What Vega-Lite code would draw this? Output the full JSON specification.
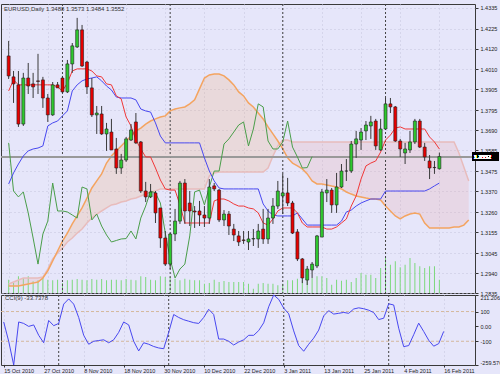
{
"$schema": "https://vega.github.io/schema/vega-lite/v6.json",
"background": "#E6E6FA",
"padding": {"left": 0, "top": 3, "right": 0, "bottom": 0},
"autosize": {"type": "pad"},
"bounds": "flush",
"config": {
  "view": {"fill": "#E6E6FA", "stroke": "#3a3a3a", "strokeWidth": 1},
  "axis": {"labelFont": "Liberation Sans", "labelFontSize": 5.5, "labelColor": "#222222", "tickColor": "#333333", "domain": false, "gridColor": "#C4C4DC", "gridDash": [1, 3], "gridWidth": 1, "labelOverlap": false, "title": null}
},
"datasets": {
"seps": [{"i": 11}, {"i": 33}, {"i": 56}, {"i": 77}],
"bars": [
{"i":0,"open":1.4081,"high":1.4160,"low":1.3960,"close":1.3976,"volume":13300,"tenkan":1.3897,"kijun":1.3408,"chikou":1.3624,"spanA":1.2872,"spanB":1.2882,"cci":30},
{"i":1,"open":1.3971,"high":1.4002,"low":1.3834,"close":1.3934,"volume":10000,"tenkan":1.3955,"kijun":1.3466,"chikou":1.3371,"spanA":1.2872,"spanB":1.2893,"cci":-100},
{"i":2,"open":1.3929,"high":1.4002,"low":1.3708,"close":1.3723,"volume":16700,"tenkan":1.3929,"kijun":1.3513,"chikou":1.3340,"spanA":1.2872,"spanB":1.2903,"cci":-259.576},
{"i":3,"open":1.3723,"high":1.3992,"low":1.3713,"close":1.3965,"volume":15000,"tenkan":1.3929,"kijun":1.3555,"chikou":1.3366,"spanA":1.2877,"spanB":1.2914,"cci":30},
{"i":4,"open":1.3965,"high":1.4044,"low":1.3881,"close":1.3923,"volume":16700,"tenkan":1.3929,"kijun":1.3582,"chikou":1.3256,"spanA":1.2882,"spanB":1.2914,"cci":20},
{"i":5,"open":1.3934,"high":1.3992,"low":1.3860,"close":1.3918,"volume":11700,"tenkan":1.3929,"kijun":1.3592,"chikou":1.3124,"spanA":1.2887,"spanB":1.2914,"cci":0},
{"i":6,"open":1.3950,"high":1.4092,"low":1.3881,"close":1.3947,"volume":12700,"tenkan":1.3929,"kijun":1.3597,"chikou":1.2987,"spanA":1.2893,"spanB":1.2914,"cci":10},
{"i":7,"open":1.3955,"high":1.3971,"low":1.3808,"close":1.3860,"volume":15000,"tenkan":1.3929,"kijun":1.3608,"chikou":1.3145,"spanA":1.2914,"spanB":1.2919,"cci":-60},
{"i":8,"open":1.3860,"high":1.3881,"low":1.3734,"close":1.3771,"volume":13300,"tenkan":1.3929,"kijun":1.3713,"chikou":1.3213,"spanA":1.2951,"spanB":1.2961,"cci":-110},
{"i":9,"open":1.3771,"high":1.3944,"low":1.3766,"close":1.3929,"volume":12700,"tenkan":1.3929,"kijun":1.3729,"chikou":1.3413,"spanA":1.3003,"spanB":1.3014,"cci":40},
{"i":10,"open":1.3929,"high":1.3944,"low":1.3913,"close":1.3913,"volume":13300,"tenkan":1.3918,"kijun":1.3739,"chikou":1.3266,"spanA":1.3056,"spanB":1.3045,"cci":5},
{"i":11,"open":1.3965,"high":1.3976,"low":1.3886,"close":1.3892,"volume":10000,"tenkan":1.3897,"kijun":1.3766,"chikou":1.3266,"spanA":1.3108,"spanB":1.3071,"cci":20},
{"i":12,"open":1.3892,"high":1.4060,"low":1.3886,"close":1.4039,"volume":12700,"tenkan":1.3939,"kijun":1.3792,"chikou":1.3261,"spanA":1.3150,"spanB":1.3103,"cci":150},
{"i":13,"open":1.4039,"high":1.4149,"low":1.3992,"close":1.4134,"volume":13300,"tenkan":1.4002,"kijun":1.3897,"chikou":1.3245,"spanA":1.3198,"spanB":1.3124,"cci":185},
{"i":14,"open":1.4128,"high":1.4281,"low":1.4123,"close":1.4218,"volume":14000,"tenkan":1.4013,"kijun":1.3929,"chikou":1.3229,"spanA":1.3240,"spanB":1.3150,"cci":150},
{"i":15,"open":1.4218,"high":1.4244,"low":1.4023,"close":1.4028,"volume":13300,"tenkan":1.4013,"kijun":1.3950,"chikou":1.3392,"spanA":1.3282,"spanB":1.3171,"cci":60},
{"i":16,"open":1.4049,"high":1.4055,"low":1.3881,"close":1.3918,"volume":12700,"tenkan":1.4013,"kijun":1.3960,"chikou":1.3382,"spanA":1.3334,"spanB":1.3203,"cci":-60},
{"i":17,"open":1.3913,"high":1.3965,"low":1.3760,"close":1.3771,"volume":14000,"tenkan":1.4002,"kijun":1.3965,"chikou":1.3219,"spanA":1.3387,"spanB":1.3229,"cci":-120},
{"i":18,"open":1.3771,"high":1.3818,"low":1.3671,"close":1.3781,"volume":13300,"tenkan":1.3976,"kijun":1.3971,"chikou":1.3250,"spanA":1.3424,"spanB":1.3250,"cci":-100},
{"i":19,"open":1.3776,"high":1.3818,"low":1.3666,"close":1.3671,"volume":14000,"tenkan":1.3971,"kijun":1.3950,"chikou":1.3187,"spanA":1.3461,"spanB":1.3266,"cci":-95},
{"i":20,"open":1.3671,"high":1.3729,"low":1.3582,"close":1.3697,"volume":12700,"tenkan":1.3934,"kijun":1.3923,"chikou":1.3140,"spanA":1.3518,"spanB":1.3282,"cci":-90},
{"i":21,"open":1.3681,"high":1.3750,"low":1.3587,"close":1.3587,"volume":13300,"tenkan":1.3929,"kijun":1.3902,"chikou":1.3103,"spanA":1.3555,"spanB":1.3298,"cci":-110},
{"i":22,"open":1.3592,"high":1.3650,"low":1.3461,"close":1.3492,"volume":13300,"tenkan":1.3871,"kijun":1.3865,"chikou":1.3111,"spanA":1.3582,"spanB":1.3303,"cci":-90},
{"i":23,"open":1.3492,"high":1.3566,"low":1.3461,"close":1.3534,"volume":12700,"tenkan":1.3855,"kijun":1.3860,"chikou":1.3119,"spanA":1.3608,"spanB":1.3313,"cci":-40},
{"i":24,"open":1.3534,"high":1.3655,"low":1.3524,"close":1.3645,"volume":14000,"tenkan":1.3760,"kijun":1.3860,"chikou":1.3121,"spanA":1.3634,"spanB":1.3319,"cci":30},
{"i":25,"open":1.3639,"high":1.3723,"low":1.3634,"close":1.3692,"volume":13300,"tenkan":1.3713,"kijun":1.3860,"chikou":1.3161,"spanA":1.3660,"spanB":1.3329,"cci":10},
{"i":26,"open":1.3734,"high":1.3781,"low":1.3618,"close":1.3624,"volume":12700,"tenkan":1.3639,"kijun":1.3850,"chikou":1.3119,"spanA":1.3687,"spanB":1.3334,"cci":-100},
{"i":27,"open":1.3629,"high":1.3634,"low":1.3361,"close":1.3371,"volume":16700,"tenkan":1.3592,"kijun":1.3802,"chikou":1.3229,"spanA":1.3702,"spanB":1.3345,"cci":-165},
{"i":28,"open":1.3371,"high":1.3419,"low":1.3313,"close":1.3340,"volume":16000,"tenkan":1.3550,"kijun":1.3792,"chikou":1.3292,"spanA":1.3723,"spanB":1.3355,"cci":-110},
{"i":29,"open":1.3340,"high":1.3408,"low":1.3334,"close":1.3366,"volume":13300,"tenkan":1.3550,"kijun":1.3786,"chikou":1.3371,"spanA":1.3739,"spanB":1.3366,"cci":-120},
{"i":30,"open":1.3361,"high":1.3371,"low":1.3203,"close":1.3256,"volume":12700,"tenkan":1.3492,"kijun":1.3729,"chikou":1.3361,"spanA":1.3750,"spanB":1.3371,"cci":-135},
{"i":31,"open":1.3282,"high":1.3282,"low":1.3072,"close":1.3124,"volume":16700,"tenkan":1.3429,"kijun":1.3660,"chikou":1.3308,"spanA":1.3760,"spanB":1.3382,"cci":-145},
{"i":32,"open":1.3124,"high":1.3161,"low":1.2977,"close":1.2987,"volume":16000,"tenkan":1.3382,"kijun":1.3624,"chikou":1.3150,"spanA":1.3766,"spanB":1.3382,"cci":-150},
{"i":33,"open":1.2987,"high":1.3150,"low":1.2961,"close":1.3145,"volume":16000,"tenkan":1.3376,"kijun":1.3624,"chikou":1.3014,"spanA":1.3792,"spanB":1.3382,"cci":-40},
{"i":34,"open":1.3145,"high":1.3277,"low":1.3108,"close":1.3213,"volume":14300,"tenkan":1.3376,"kijun":1.3624,"chikou":1.2914,"spanA":1.3802,"spanB":1.3382,"cci":80},
{"i":35,"open":1.3213,"high":1.3424,"low":1.3198,"close":1.3413,"volume":12700,"tenkan":1.3298,"kijun":1.3624,"chikou":1.2961,"spanA":1.3808,"spanB":1.3382,"cci":60},
{"i":36,"open":1.3413,"high":1.3434,"low":1.3198,"close":1.3266,"volume":14300,"tenkan":1.3203,"kijun":1.3624,"chikou":1.2987,"spanA":1.3813,"spanB":1.3382,"cci":45},
{"i":37,"open":1.3308,"high":1.3371,"low":1.3187,"close":1.3266,"volume":13300,"tenkan":1.3203,"kijun":1.3624,"chikou":1.3135,"spanA":1.3829,"spanB":1.3382,"cci":35},
{"i":38,"open":1.3266,"high":1.3292,"low":1.3177,"close":1.3261,"volume":12700,"tenkan":1.3203,"kijun":1.3624,"chikou":1.3366,"spanA":1.3850,"spanB":1.3382,"cci":25},
{"i":39,"open":1.3266,"high":1.3319,"low":1.3187,"close":1.3245,"volume":12700,"tenkan":1.3203,"kijun":1.3624,"chikou":1.3376,"spanA":1.3908,"spanB":1.3382,"cci":20},
{"i":40,"open":1.3245,"high":1.3292,"low":1.3182,"close":1.3229,"volume":9300,"tenkan":1.3203,"kijun":1.3545,"chikou":1.3298,"spanA":1.3965,"spanB":1.3382,"cci":60},
{"i":41,"open":1.3229,"high":1.3434,"low":1.3198,"close":1.3392,"volume":10000,"tenkan":1.3203,"kijun":1.3476,"chikou":1.3392,"spanA":1.3981,"spanB":1.3450,"cci":115},
{"i":42,"open":1.3398,"high":1.3413,"low":1.3371,"close":1.3382,"volume":13300,"tenkan":1.3319,"kijun":1.3424,"chikou":1.3476,"spanA":1.3986,"spanB":1.3466,"cci":80},
{"i":43,"open":1.3376,"high":1.3382,"low":1.3208,"close":1.3219,"volume":11000,"tenkan":1.3329,"kijun":1.3387,"chikou":1.3476,"spanA":1.3986,"spanB":1.3471,"cci":-85},
{"i":44,"open":1.3219,"high":1.3271,"low":1.3187,"close":1.3250,"volume":12000,"tenkan":1.3329,"kijun":1.3382,"chikou":1.3618,"spanA":1.3976,"spanB":1.3471,"cci":-85},
{"i":45,"open":1.3250,"high":1.3266,"low":1.3140,"close":1.3187,"volume":11000,"tenkan":1.3319,"kijun":1.3382,"chikou":1.3645,"spanA":1.3955,"spanB":1.3471,"cci":-100},
{"i":46,"open":1.3171,"high":1.3198,"low":1.3108,"close":1.3140,"volume":11000,"tenkan":1.3303,"kijun":1.3382,"chikou":1.3681,"spanA":1.3929,"spanB":1.3471,"cci":-125},
{"i":47,"open":1.3135,"high":1.3161,"low":1.3082,"close":1.3103,"volume":11000,"tenkan":1.3292,"kijun":1.3382,"chikou":1.3718,"spanA":1.3892,"spanB":1.3471,"cci":-105},
{"i":48,"open":1.3114,"high":1.3161,"low":1.3093,"close":1.3111,"volume":11000,"tenkan":1.3292,"kijun":1.3382,"chikou":1.3734,"spanA":1.3871,"spanB":1.3471,"cci":-90},
{"i":49,"open":1.3103,"high":1.3161,"low":1.3061,"close":1.3119,"volume":9300,"tenkan":1.3282,"kijun":1.3382,"chikou":1.3608,"spanA":1.3834,"spanB":1.3471,"cci":-60},
{"i":50,"open":1.3119,"high":1.3171,"low":1.3082,"close":1.3121,"volume":4300,"tenkan":1.3277,"kijun":1.3382,"chikou":1.3697,"spanA":1.3813,"spanB":1.3471,"cci":-60},
{"i":51,"open":1.3119,"high":1.3198,"low":1.3072,"close":1.3161,"volume":9300,"tenkan":1.3256,"kijun":1.3382,"chikou":1.3829,"spanA":1.3781,"spanB":1.3471,"cci":-28},
{"i":52,"open":1.3171,"high":1.3277,"low":1.3093,"close":1.3119,"volume":10000,"tenkan":1.3203,"kijun":1.3303,"chikou":1.3813,"spanA":1.3750,"spanB":1.3471,"cci":24},
{"i":53,"open":1.3119,"high":1.3277,"low":1.3093,"close":1.3229,"volume":9300,"tenkan":1.3192,"kijun":1.3266,"chikou":1.3634,"spanA":1.3708,"spanB":1.3492,"cci":132},
{"i":54,"open":1.3229,"high":1.3334,"low":1.3198,"close":1.3292,"volume":9300,"tenkan":1.3224,"kijun":1.3245,"chikou":1.3592,"spanA":1.3671,"spanB":1.3555,"cci":211.2061},
{"i":55,"open":1.3292,"high":1.3424,"low":1.3277,"close":1.3371,"volume":7700,"tenkan":1.3266,"kijun":1.3240,"chikou":1.3592,"spanA":1.3634,"spanB":1.3608,"cci":182},
{"i":56,"open":1.3345,"high":1.3461,"low":1.3250,"close":1.3361,"volume":9300,"tenkan":1.3282,"kijun":1.3240,"chikou":1.3629,"spanA":1.3592,"spanB":1.3639,"cci":123},
{"i":57,"open":1.3361,"high":1.3440,"low":1.3292,"close":1.3308,"volume":12700,"tenkan":1.3282,"kijun":1.3240,"chikou":1.3739,"spanA":1.3545,"spanB":1.3639,"cci":85},
{"i":58,"open":1.3308,"high":1.3319,"low":1.3145,"close":1.3150,"volume":12700,"tenkan":1.3282,"kijun":1.3240,"chikou":1.3602,"spanA":1.3518,"spanB":1.3629,"cci":-30},
{"i":59,"open":1.3156,"high":1.3171,"low":1.3003,"close":1.3014,"volume":14300,"tenkan":1.3256,"kijun":1.3256,"chikou":1.3550,"spanA":1.3503,"spanB":1.3629,"cci":-129},
{"i":60,"open":1.3014,"high":1.3019,"low":1.2887,"close":1.2914,"volume":12700,"tenkan":1.3203,"kijun":1.3224,"chikou":1.3492,"spanA":1.3487,"spanB":1.3629,"cci":-167},
{"i":61,"open":1.2903,"high":1.2977,"low":1.2877,"close":1.2961,"volume":12700,"tenkan":1.3182,"kijun":1.3192,"chikou":1.3494,"spanA":1.3461,"spanB":1.3629,"cci":-120},
{"i":62,"open":1.2956,"high":1.2998,"low":1.2914,"close":1.2987,"volume":15000,"tenkan":1.3182,"kijun":1.3192,"chikou":1.3552,"spanA":1.3424,"spanB":1.3629,"cci":-79},
{"i":63,"open":1.2977,"high":1.3140,"low":1.2966,"close":1.3135,"volume":16700,"tenkan":1.3182,"kijun":1.3192,"spanA":1.3408,"spanB":1.3629,"cci":-25},
{"i":64,"open":1.3129,"high":1.3382,"low":1.3129,"close":1.3366,"volume":16700,"tenkan":1.3182,"kijun":1.3192,"spanA":1.3408,"spanB":1.3629,"cci":71},
{"i":65,"open":1.3361,"high":1.3434,"low":1.3313,"close":1.3376,"volume":15000,"tenkan":1.3171,"kijun":1.3192,"spanA":1.3403,"spanB":1.3629,"cci":106},
{"i":66,"open":1.3376,"high":1.3387,"low":1.3256,"close":1.3298,"volume":8300,"tenkan":1.3171,"kijun":1.3192,"spanA":1.3397,"spanB":1.3629,"cci":83},
{"i":67,"open":1.3298,"high":1.3466,"low":1.3256,"close":1.3392,"volume":13300,"tenkan":1.3182,"kijun":1.3192,"spanA":1.3392,"spanB":1.3629,"cci":88},
{"i":68,"open":1.3392,"high":1.3513,"low":1.3387,"close":1.3476,"volume":12300,"tenkan":1.3203,"kijun":1.3213,"spanA":1.3382,"spanB":1.3629,"cci":94},
{"i":69,"open":1.3476,"high":1.3539,"low":1.3424,"close":1.3476,"volume":13300,"tenkan":1.3224,"kijun":1.3261,"spanA":1.3366,"spanB":1.3629,"cci":88},
{"i":70,"open":1.3476,"high":1.3634,"low":1.3466,"close":1.3618,"volume":11000,"tenkan":1.3292,"kijun":1.3271,"spanA":1.3355,"spanB":1.3629,"cci":117},
{"i":71,"open":1.3618,"high":1.3687,"low":1.3545,"close":1.3645,"volume":15000,"tenkan":1.3345,"kijun":1.3292,"spanA":1.3345,"spanB":1.3629,"cci":125},
{"i":72,"open":1.3639,"high":1.3702,"low":1.3587,"close":1.3681,"volume":20000,"tenkan":1.3434,"kijun":1.3308,"spanA":1.3340,"spanB":1.3629,"cci":119},
{"i":73,"open":1.3687,"high":1.3739,"low":1.3639,"close":1.3718,"volume":18300,"tenkan":1.3503,"kijun":1.3319,"spanA":1.3334,"spanB":1.3629,"cci":109},
{"i":74,"open":1.3713,"high":1.3766,"low":1.3645,"close":1.3734,"volume":18300,"tenkan":1.3518,"kijun":1.3329,"spanA":1.3329,"spanB":1.3629,"cci":93},
{"i":75,"open":1.3739,"high":1.3750,"low":1.3587,"close":1.3608,"volume":15000,"tenkan":1.3529,"kijun":1.3329,"spanA":1.3329,"spanB":1.3629,"cci":46},
{"i":76,"open":1.3587,"high":1.3750,"low":1.3582,"close":1.3697,"volume":25000,"tenkan":1.3576,"kijun":1.3329,"spanA":1.3324,"spanB":1.3629,"cci":55},
{"i":77,"open":1.3697,"high":1.3860,"low":1.3692,"close":1.3829,"volume":35700,"tenkan":1.3639,"kijun":1.3371,"spanA":1.3292,"spanB":1.3629,"cci":152},
{"i":78,"open":1.3829,"high":1.3860,"low":1.3781,"close":1.3813,"volume":28300,"tenkan":1.3665,"kijun":1.3371,"spanA":1.3266,"spanB":1.3629,"cci":144},
{"i":79,"open":1.3813,"high":1.3818,"low":1.3629,"close":1.3634,"volume":31700,"tenkan":1.3702,"kijun":1.3371,"spanA":1.3240,"spanB":1.3629,"cci":-12},
{"i":80,"open":1.3634,"high":1.3645,"low":1.3550,"close":1.3592,"volume":25700,"tenkan":1.3708,"kijun":1.3371,"spanA":1.3224,"spanB":1.3629,"cci":-136},
{"i":81,"open":1.3571,"high":1.3624,"low":1.3513,"close":1.3592,"volume":28300,"tenkan":1.3697,"kijun":1.3371,"spanA":1.3240,"spanB":1.3629,"cci":-129},
{"i":82,"open":1.3587,"high":1.3687,"low":1.3571,"close":1.3629,"volume":35000,"tenkan":1.3697,"kijun":1.3371,"spanA":1.3250,"spanB":1.3629,"cci":-56},
{"i":83,"open":1.3629,"high":1.3750,"low":1.3618,"close":1.3739,"volume":30000,"tenkan":1.3697,"kijun":1.3371,"spanA":1.3256,"spanB":1.3629,"cci":22},
{"i":84,"open":1.3739,"high":1.3750,"low":1.3597,"close":1.3602,"volume":26700,"tenkan":1.3697,"kijun":1.3371,"spanA":1.3250,"spanB":1.3629,"cci":-34},
{"i":85,"open":1.3602,"high":1.3624,"low":1.3529,"close":1.3550,"volume":25000,"tenkan":1.3697,"kijun":1.3371,"spanA":1.3203,"spanB":1.3629,"cci":-93},
{"i":86,"open":1.3529,"high":1.3560,"low":1.3434,"close":1.3492,"volume":26700,"tenkan":1.3655,"kijun":1.3382,"spanA":1.3177,"spanB":1.3629,"cci":-133},
{"i":87,"open":1.3495,"high":1.3529,"low":1.3461,"close":1.3494,"volume":26700,"tenkan":1.3629,"kijun":1.3398,"spanA":1.3177,"spanB":1.3629,"cci":-116},
{"i":88,"open":1.3488,"high":1.3573,"low":1.3484,"close":1.3552,"volume":13300,"tenkan":1.3592,"kijun":1.3413,"spanA":1.3177,"spanB":1.3629,"cci":-33.7378},
{"i":89,"spanA":1.3177,"spanB":1.3629},
{"i":90,"spanA":1.3177,"spanB":1.3629},
{"i":91,"spanA":1.3182,"spanB":1.3629},
{"i":92,"spanA":1.3182,"spanB":1.3571},
{"i":93,"spanA":1.3192,"spanB":1.3497},
{"i":94,"spanA":1.3219,"spanB":1.3424}
]
},
"spacing": 2,
"vconcat": [
{
  "width": 474, "height": 289,
  "title": {"text": "EURUSD,Daily  1.3488 1.3573 1.3484 1.3552", "anchor": "start", "frame": "group", "offset": -8, "dx": 3, "fontSize": 6, "font": "Liberation Sans", "fontWeight": "normal", "color": "#333333"},
  "data": {"name": "bars"},
  "encoding": {
    "x": {"field": "i", "type": "quantitative", "scale": {"domain": [-0.54, 94.26], "nice": false, "zero": false},
          "axis": {"grid": true, "labels": false, "ticks": false, "domain": false, "values": [0, 8, 16, 24, 32, 40, 48, 56, 64, 72, 80, 88], "title": null}}
  },
  "layer": [
    {"mark": {"type": "bar", "color": "#7CD87C", "size": 1},
     "encoding": {"y": {"field": "volume", "type": "quantitative", "scale": {"domain": [0, 289000]}, "axis": null}}},
    {"layer": [
      {"transform": [{"filter": "datum.i >= 10 && datum.i <= 56"}],
       "mark": {"type": "area", "color": "#F4A460", "opacity": 0.2},
       "encoding": {"y": {"field": "spanA", "type": "quantitative", "scale": {"domain": [1.2835, 1.4354], "nice": false, "zero": false}, "axis": {"orient": "right", "values": [1.4335, 1.4225, 1.412, 1.401, 1.3905, 1.3795, 1.369, 1.3585, 1.3475, 1.337, 1.326, 1.3155, 1.3045, 1.294, 1.2835], "format": ".4f", "tickSize": 3, "labelPadding": 2, "grid": true, "title": null}}, "y2": {"field": "spanB"}}},
      {"transform": [{"filter": "datum.i <= 10"}],
       "mark": {"type": "area", "color": "#E8B0B4", "opacity": 0.28},
       "encoding": {"y": {"field": "spanA", "type": "quantitative", "scale": {"domain": [1.2835, 1.4354], "nice": false, "zero": false}, "axis": {"orient": "right", "values": [1.4335, 1.4225, 1.412, 1.401, 1.3905, 1.3795, 1.369, 1.3585, 1.3475, 1.337, 1.326, 1.3155, 1.3045, 1.294, 1.2835], "format": ".4f", "tickSize": 3, "labelPadding": 2, "grid": true, "title": null}}, "y2": {"field": "spanB"}}},
      {"transform": [{"filter": "datum.i >= 55"}],
       "mark": {"type": "area", "color": "#E8B0B4", "opacity": 0.28},
       "encoding": {"y": {"field": "spanA", "type": "quantitative", "scale": {"domain": [1.2835, 1.4354], "nice": false, "zero": false}, "axis": {"orient": "right", "values": [1.4335, 1.4225, 1.412, 1.401, 1.3905, 1.3795, 1.369, 1.3585, 1.3475, 1.337, 1.326, 1.3155, 1.3045, 1.294, 1.2835], "format": ".4f", "tickSize": 3, "labelPadding": 2, "grid": true, "title": null}}, "y2": {"field": "spanB"}}},
      {"mark": {"type": "line", "color": "#E8BCBC", "strokeWidth": 1.5},
       "encoding": {"y": {"field": "spanB", "type": "quantitative", "scale": {"domain": [1.2835, 1.4354], "nice": false, "zero": false}, "axis": {"orient": "right", "values": [1.4335, 1.4225, 1.412, 1.401, 1.3905, 1.3795, 1.369, 1.3585, 1.3475, 1.337, 1.326, 1.3155, 1.3045, 1.294, 1.2835], "format": ".4f", "tickSize": 3, "labelPadding": 2, "grid": true, "title": null}}}},
      {"mark": {"type": "line", "color": "#F4A460", "strokeWidth": 1.5},
       "encoding": {"y": {"field": "spanA", "type": "quantitative", "scale": {"domain": [1.2835, 1.4354], "nice": false, "zero": false}, "axis": {"orient": "right", "values": [1.4335, 1.4225, 1.412, 1.401, 1.3905, 1.3795, 1.369, 1.3585, 1.3475, 1.337, 1.326, 1.3155, 1.3045, 1.294, 1.2835], "format": ".4f", "tickSize": 3, "labelPadding": 2, "grid": true, "title": null}}}},
      {"data": {"name": "seps"},
       "mark": {"type": "rule", "color": "#444444", "strokeDash": [2, 2], "strokeWidth": 1},
       "encoding": {}},
      {"mark": {"type": "rule", "color": "#999999", "strokeWidth": 1},
       "encoding": {"y": {"datum": 1.3552, "type": "quantitative", "scale": {"domain": [1.2835, 1.4354], "nice": false, "zero": false}, "axis": {"orient": "right", "values": [1.4335, 1.4225, 1.412, 1.401, 1.3905, 1.3795, 1.369, 1.3585, 1.3475, 1.337, 1.326, 1.3155, 1.3045, 1.294, 1.2835], "format": ".4f", "tickSize": 3, "labelPadding": 2, "grid": true, "title": null}}, "x": {"value": 0}, "x2": {"value": 474}}},
      {"mark": {"type": "line", "color": "#4A9E4A", "strokeWidth": 1},
       "encoding": {"y": {"field": "chikou", "type": "quantitative", "scale": {"domain": [1.2835, 1.4354], "nice": false, "zero": false}, "axis": {"orient": "right", "values": [1.4335, 1.4225, 1.412, 1.401, 1.3905, 1.3795, 1.369, 1.3585, 1.3475, 1.337, 1.326, 1.3155, 1.3045, 1.294, 1.2835], "format": ".4f", "tickSize": 3, "labelPadding": 2, "grid": true, "title": null}}}},
      {"mark": {"type": "line", "color": "#4848F0", "strokeWidth": 1},
       "encoding": {"y": {"field": "kijun", "type": "quantitative", "scale": {"domain": [1.2835, 1.4354], "nice": false, "zero": false}, "axis": {"orient": "right", "values": [1.4335, 1.4225, 1.412, 1.401, 1.3905, 1.3795, 1.369, 1.3585, 1.3475, 1.337, 1.326, 1.3155, 1.3045, 1.294, 1.2835], "format": ".4f", "tickSize": 3, "labelPadding": 2, "grid": true, "title": null}}}},
      {"mark": {"type": "line", "color": "#F03838", "strokeWidth": 1},
       "encoding": {"y": {"field": "tenkan", "type": "quantitative", "scale": {"domain": [1.2835, 1.4354], "nice": false, "zero": false}, "axis": {"orient": "right", "values": [1.4335, 1.4225, 1.412, 1.401, 1.3905, 1.3795, 1.369, 1.3585, 1.3475, 1.337, 1.326, 1.3155, 1.3045, 1.294, 1.2835], "format": ".4f", "tickSize": 3, "labelPadding": 2, "grid": true, "title": null}}}},
      {"mark": {"type": "rule", "color": "#3a3a3a", "strokeWidth": 1},
       "encoding": {"y": {"field": "low", "type": "quantitative", "scale": {"domain": [1.2835, 1.4354], "nice": false, "zero": false}, "axis": {"orient": "right", "values": [1.4335, 1.4225, 1.412, 1.401, 1.3905, 1.3795, 1.369, 1.3585, 1.3475, 1.337, 1.326, 1.3155, 1.3045, 1.294, 1.2835], "format": ".4f", "tickSize": 3, "labelPadding": 2, "grid": true, "title": null}},
                    "y2": {"field": "high"}}},
      {"mark": {"type": "bar", "stroke": "#202020", "strokeWidth": 0.6, "size": 3},
       "encoding": {"y": {"field": "open", "type": "quantitative", "scale": {"domain": [1.2835, 1.4354], "nice": false, "zero": false}, "axis": {"orient": "right", "values": [1.4335, 1.4225, 1.412, 1.401, 1.3905, 1.3795, 1.369, 1.3585, 1.3475, 1.337, 1.326, 1.3155, 1.3045, 1.294, 1.2835], "format": ".4f", "tickSize": 3, "labelPadding": 2, "grid": true, "title": null}},
                    "y2": {"field": "close"},
                    "color": {"condition": {"test": "datum.close >= datum.open", "value": "#2EC82E"}, "value": "#E80000"}}},
      {"mark": {"type": "rect", "color": "#000000", "clip": false},
       "encoding": {"x": {"datum": 94.7, "type": "quantitative"}, "x2": {"datum": 100}, "y": {"datum": 1.3574, "type": "quantitative", "scale": {"domain": [1.2835, 1.4354], "nice": false, "zero": false}, "axis": {"orient": "right", "values": [1.4335, 1.4225, 1.412, 1.401, 1.3905, 1.3795, 1.369, 1.3585, 1.3475, 1.337, 1.326, 1.3155, 1.3045, 1.294, 1.2835], "format": ".4f", "tickSize": 3, "labelPadding": 2, "grid": true, "title": null}}, "y2": {"datum": 1.3530}}},
      {"mark": {"type": "text", "color": "#FFFFFF", "align": "left", "baseline": "middle", "font": "Liberation Sans", "fontSize": 5.5, "clip": false},
       "encoding": {"x": {"datum": 95.1, "type": "quantitative"}, "y": {"datum": 1.3552, "type": "quantitative", "scale": {"domain": [1.2835, 1.4354], "nice": false, "zero": false}, "axis": {"orient": "right", "values": [1.4335, 1.4225, 1.412, 1.401, 1.3905, 1.3795, 1.369, 1.3585, 1.3475, 1.337, 1.326, 1.3155, 1.3045, 1.294, 1.2835], "format": ".4f", "tickSize": 3, "labelPadding": 2, "grid": true, "title": null}}, "text": {"value": "1.3552"}}}
    ]}
  ],
  "resolve": {"scale": {"y": "independent"}}
},
{
  "width": 474, "height": 70,
  "title": {"text": "CCI(9) -33.7378", "anchor": "start", "frame": "group", "offset": -8, "dx": 4, "fontSize": 6, "font": "Liberation Sans", "fontWeight": "normal", "color": "#333333"},
  "data": {"name": "bars"},
  "encoding": {
    "x": {"field": "i", "type": "quantitative", "scale": {"domain": [-0.54, 94.26], "nice": false, "zero": false},
          "axis": {"grid": true, "values": [0, 8, 16, 24, 32, 40, 48, 56, 64, 72, 80, 88], "labelExpr": "['15 Oct 2010','27 Oct 2010','8 Nov 2010','18 Nov 2010','30 Nov 2010','10 Dec 2010','22 Dec 2010','3 Jan 2011','13 Jan 2011','25 Jan 2011','4 Feb 2011','16 Feb 2011'][round(datum.value/8)]", "labelAlign": "left", "labelBaseline": "top", "labelFlush": false, "tickSize": 2, "labelPadding": 1, "labelFontSize": 5.5, "title": null}}
  },
  "layer": [
    {"data": {"name": "seps"},
     "mark": {"type": "rule", "color": "#444444", "strokeDash": [2, 2], "strokeWidth": 1},
     "encoding": {}},
    {"data": {"values": [{"lvl": 100}, {"lvl": -100}]},
     "mark": {"type": "rule", "color": "#D4B89C", "strokeDash": [3, 2], "strokeWidth": 1},
     "encoding": {"x": {"value": 0}, "x2": {"value": 474}, "y": {"field": "lvl", "type": "quantitative", "scale": {"domain": [-259.576, 211.2061], "nice": false, "zero": false}, "axis": null}}},
    {"mark": {"type": "line", "color": "#4848F0", "strokeWidth": 1},
     "encoding": {"y": {"field": "cci", "type": "quantitative", "scale": {"domain": [-259.576, 211.2061], "nice": false, "zero": false},
                        "axis": {"orient": "right", "values": [211.2061, 100, 0, -100, -259.576], "labelExpr": "datum.value === 0 ? '0.00' : '' + datum.value",
                                 "labelBaseline": {"condition": [{"test": "datum.value > 200", "value": "top"}, {"test": "datum.value < -200", "value": "bottom"}], "value": "middle"},
                                 "tickSize": 3, "labelPadding": 2, "grid": false, "title": null}}}}
  ],
  "resolve": {"axis": {"y": "independent"}}
}
]
}
